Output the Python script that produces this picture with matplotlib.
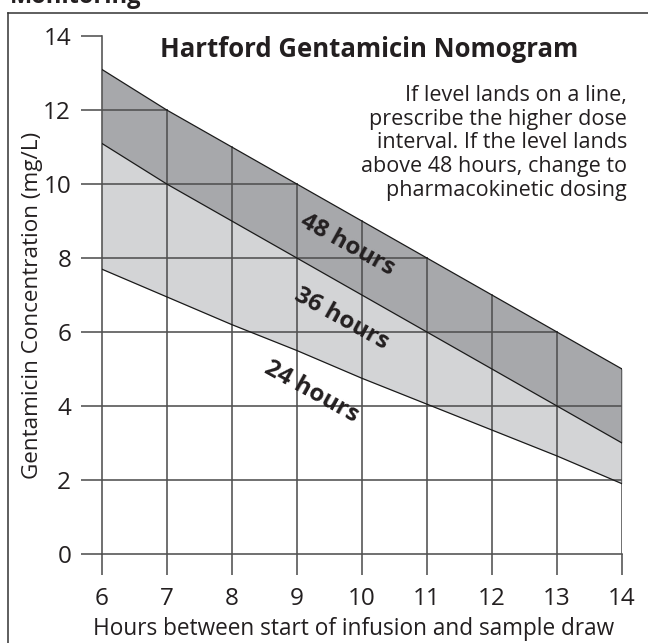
import numpy as np
import matplotlib
matplotlib.use("Agg")
import matplotlib.pyplot as plt

plt.rcParams['font.family'] = ['Open Sans', 'DejaVu Sans']

# hours between start of infusion and sample draw
hours = [6, 7, 8, 9, 10, 11, 12, 13, 14]
# concentration (mg/L) at each hour for the three dosing-interval lines
line_48 = [13.1, 12.0, 11.0, 10.0, 9.0, 8.0, 7.0, 6.0, 5.0]
line_36 = [11.1, 10.0, 9.0, 8.0, 7.0, 6.0, 5.0, 4.0, 3.0]
line_24 = [7.7, 6.95, 6.2, 5.5, 4.75, 4.05, 3.35, 2.65, 1.9]

x_ticks = [6, 7, 8, 9, 10, 11, 12, 13, 14]
y_ticks = [0, 2, 4, 6, 8, 10, 12, 14]

band_labels = ["48 hours", "36 hours", "24 hours"]
label_pos = [(9.78, 8.35), (9.68, 6.35), (9.22, 4.38)]

title = "Hartford Gentamicin Nomogram"
note_lines = [
    "If level lands on a line,",
    "prescribe the higher dose",
    "interval. If the level lands",
    "above 48 hours, change to",
    "pharmacokinetic dosing",
]

W, H = 648, 643
TXT = "#231f20"
GRID = "#505050"
DARK = "#a7a8ab"
LIGHT = "#d3d4d6"

fig = plt.figure(figsize=(W / 100, H / 100), dpi=100)
ax = fig.add_axes([101.7 / W, 89 / H, 520.3 / W, 518 / H])
ax.set_xlim(6, 14)
ax.set_ylim(0, 14)

ax.fill_between(hours, line_36, line_48, color=DARK, lw=0, zorder=1)
ax.fill_between(hours, line_24, line_36, color=LIGHT, lw=0, zorder=1)

# grid only below the 48 hour line
hx = np.array(hours, dtype=float)
top = np.array(line_48)
for x in x_ticks[1:]:
    ax.plot([x, x], [0, np.interp(x, hx, top)], color=GRID, lw=1.15, zorder=2)
for y in y_ticks[1:]:
    if y > top[0]:
        continue
    xe = np.interp(y, top[::-1], hx[::-1])
    ax.plot([6, xe], [y, y], color=GRID, lw=1.15, zorder=2)

for vals in (line_48, line_36, line_24):
    ax.plot(hours, vals, color="#1a1a1a", lw=0.9, zorder=3)

for s in ("top", "right"):
    ax.spines[s].set_visible(False)
for s in ("left", "bottom"):
    ax.spines[s].set_color(GRID)
    ax.spines[s].set_linewidth(1.15)
ax.set_xticks(x_ticks)
ax.set_yticks(y_ticks)
ax.tick_params(length=15, width=1.15, color=GRID, labelsize=17.5, labelcolor=TXT)
ax.tick_params(axis="y", pad=7)
ax.tick_params(axis="x", pad=9)
ax.patch.set_alpha(0)

for lab, (lx, ly) in zip(band_labels, label_pos):
    ax.text(lx, ly, lab, rotation=-29, rotation_mode="anchor", ha="center", va="center",
            fontsize=17.5, fontweight="bold", color=TXT, zorder=4)

fig.text(353.5 / W, 1 - 635 / H, "Hours between start of infusion and sample draw",
         ha="center", va="baseline", fontsize=16.3, color=TXT)
fig.text(33 / W, 1 - 305 / H, "Gentamicin Concentration (mg/L)", rotation=90,
         ha="center", va="center", fontsize=16.2, color=TXT)

fig.text(369.5 / W, 1 - 56.7 / H, title, ha="center", va="baseline",
         fontsize=18.5, fontweight="bold", color=TXT)
for i, line in enumerate(note_lines):
    fig.text(627 / W, 1 - (100.7 + 23.8 * i) / H, line, ha="right", va="baseline",
             fontsize=15.5, color=TXT)

# heading of the page, cut off above the boxed figure
fig.text(10 / W, 1 - 3 / H, "Monitoring", ha="left", va="baseline",
         fontsize=17, fontweight="bold", color=TXT)
fig.add_artist(plt.Line2D([8.3 / W, 8.3 / W], [-0.05, 1 - 12.7 / H], color="#333333", lw=1.1))
fig.add_artist(plt.Line2D([8.3 / W, 1.05], [1 - 12.7 / H, 1 - 12.7 / H], color="#333333", lw=1.1))

fig.savefig("out.png", dpi=100)
